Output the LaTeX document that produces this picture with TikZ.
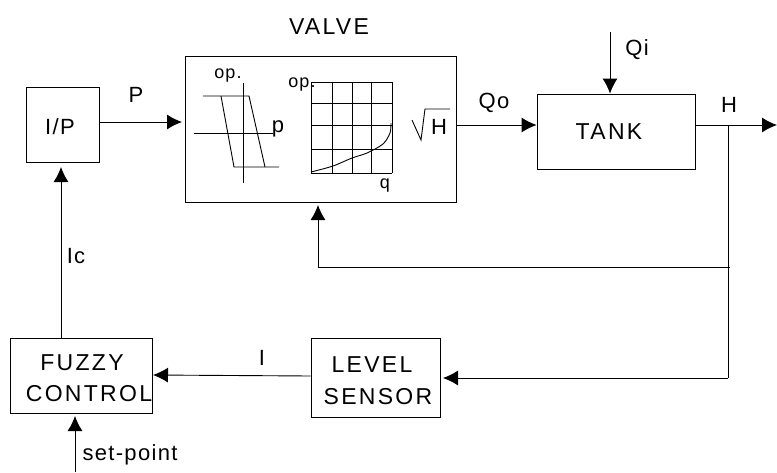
\documentclass[tikz,border=0pt]{standalone}
\usepackage{fontspec}
\setmainfont[LetterSpace=6]{Liberation Sans}
\usepackage{tikz}
\usetikzlibrary{arrows.meta}
\tikzset{
    blockbox/.style={draw, line width=0.9pt, inner sep=0pt},
    lbl/.style={inner sep=0pt, font=\fontsize{22}{22}\selectfont},
    capslbl/.style={inner sep=0pt, font=\fontsize{23}{23}\selectfont\addfontfeature{LetterSpace=10}},
    smalllbl/.style={inner sep=0pt, font=\fontsize{18}{18}\selectfont},
    sig/.style={line width=0.9pt, -{Latex[length=15pt,width=15pt]}},
    thin line/.style={line width=0.9pt}
}

\begin{document}
\begin{tikzpicture}[x=1pt,y=-1pt]
    \useasboundingbox (0,0) rectangle (777,472);
    % blocks
    \node[blockbox, minimum width=73pt, minimum height=75pt] (ip) at (62.5,124.5) {};
    \node[blockbox, minimum width=271pt, minimum height=146pt] (valve) at (320.5,129) {};
    \node[blockbox, minimum width=158pt, minimum height=75pt] (tank) at (616,131.5) {};
    \node[blockbox, minimum width=142pt, minimum height=75pt] (fuzzy) at (81,375.5) {};
    \node[blockbox, minimum width=129pt, minimum height=79pt] (sensor) at (375.5,377.5) {};
    \node[lbl] (iptxt) at (60,127) {I/P};
    \node[capslbl] (tanktxt) at (609,132) {TANK};
    \node[capslbl] (fuzzytxt) at (82,363) {FUZZY};
    \node[capslbl] (controltxt) at (89,394) {CONTROL};
    \node[capslbl] (leveltxt) at (372,365) {LEVEL};
    \node[capslbl] (sensortxt) at (378,397) {SENSOR};
    \node[capslbl] (valvetxt) at (329,27) {VALVE};
    % hysteresis
    \draw[thin line] (203,96) -- (249,96) -- (265,167);
    \draw[thin line] (221,96) -- (234,167) -- (279,167);
    \draw[thin line] (194,133) -- (273,133);
    \draw[thin line] (243,83) -- (243,183);
    \node[smalllbl] (opa) at (228,76) {op.};
    \node[lbl] (ptxt) at (278,129) {p};
    % characteristic
    \foreach \gx in {311,332,352,371,392}
        \draw[thin line] (\gx,82) -- (\gx,173);
    \foreach \gy in {82,103,125,149,173}
        \draw[thin line] (311,\gy) -- (392,\gy);
    \draw[thin line] plot[smooth] coordinates {(311,172) (333,166) (352,158) (367,153) (383,144) (390,133) (391,123)};
    \node[smalllbl] (opb) at (302,85) {op.};
    \node[smalllbl] (qtxt) at (385,186) {q};
    \draw[thin line] (412,120) -- (421,140) -- (425,109) -- (450,109);
    \node[lbl] (htxt) at (439,127) {H};
    % connectors
    \coordinate (qistart) at (610,32);
    \coordinate (hout) at (777,125);
    \coordinate (hbranch) at (728,125);
    \coordinate (fbcorner) at (730,267);
    \coordinate (fbleft) at (318,267);
    \coordinate (sensorcorner) at (728,378);
    \coordinate (setstart) at (75,472);
    \coordinate (iptip) at (61,167);
    \coordinate (settip) at (75,416);
    \coordinate (valvetip) at (318,205);
    \coordinate (sensortip) at (443,378);
    \draw[sig] (ip.east |- 0,122) -- (182,122);
    \draw[sig] (valve.east |- hout) -- (tank.west |- hout);
    \draw[sig] (qistart) -- (tank.north -| qistart);
    \draw[sig] (tank.east |- hout) -- (hout);
    \draw[thin line] (hbranch) -- (sensorcorner);
    \draw[sig] (fbcorner) -- (fbleft) -- (valvetip);
    \draw[sig] (sensorcorner) -- (sensortip);
    \draw[sig] (sensor.west |- 0,376) -- (153,375);
    \draw[sig] (fuzzy.north -| iptip) -- (iptip);
    \draw[sig] (setstart) -- (settip);
    % labels
    \node[lbl] (plbl) at (136,95) {P};
    \node[lbl] (qolbl) at (494,103) {Qo};
    \node[lbl] (qilbl) at (637,50) {Qi};
    \node[lbl] (hlbl) at (729,105) {H};
    \node[lbl] (iclbl) at (76,256) {Ic};
    \node[lbl] (ilbl) at (262,358) {I};
    \node[lbl] (setlbl) at (130,455) {set-point};
\end{tikzpicture}
\end{document}
